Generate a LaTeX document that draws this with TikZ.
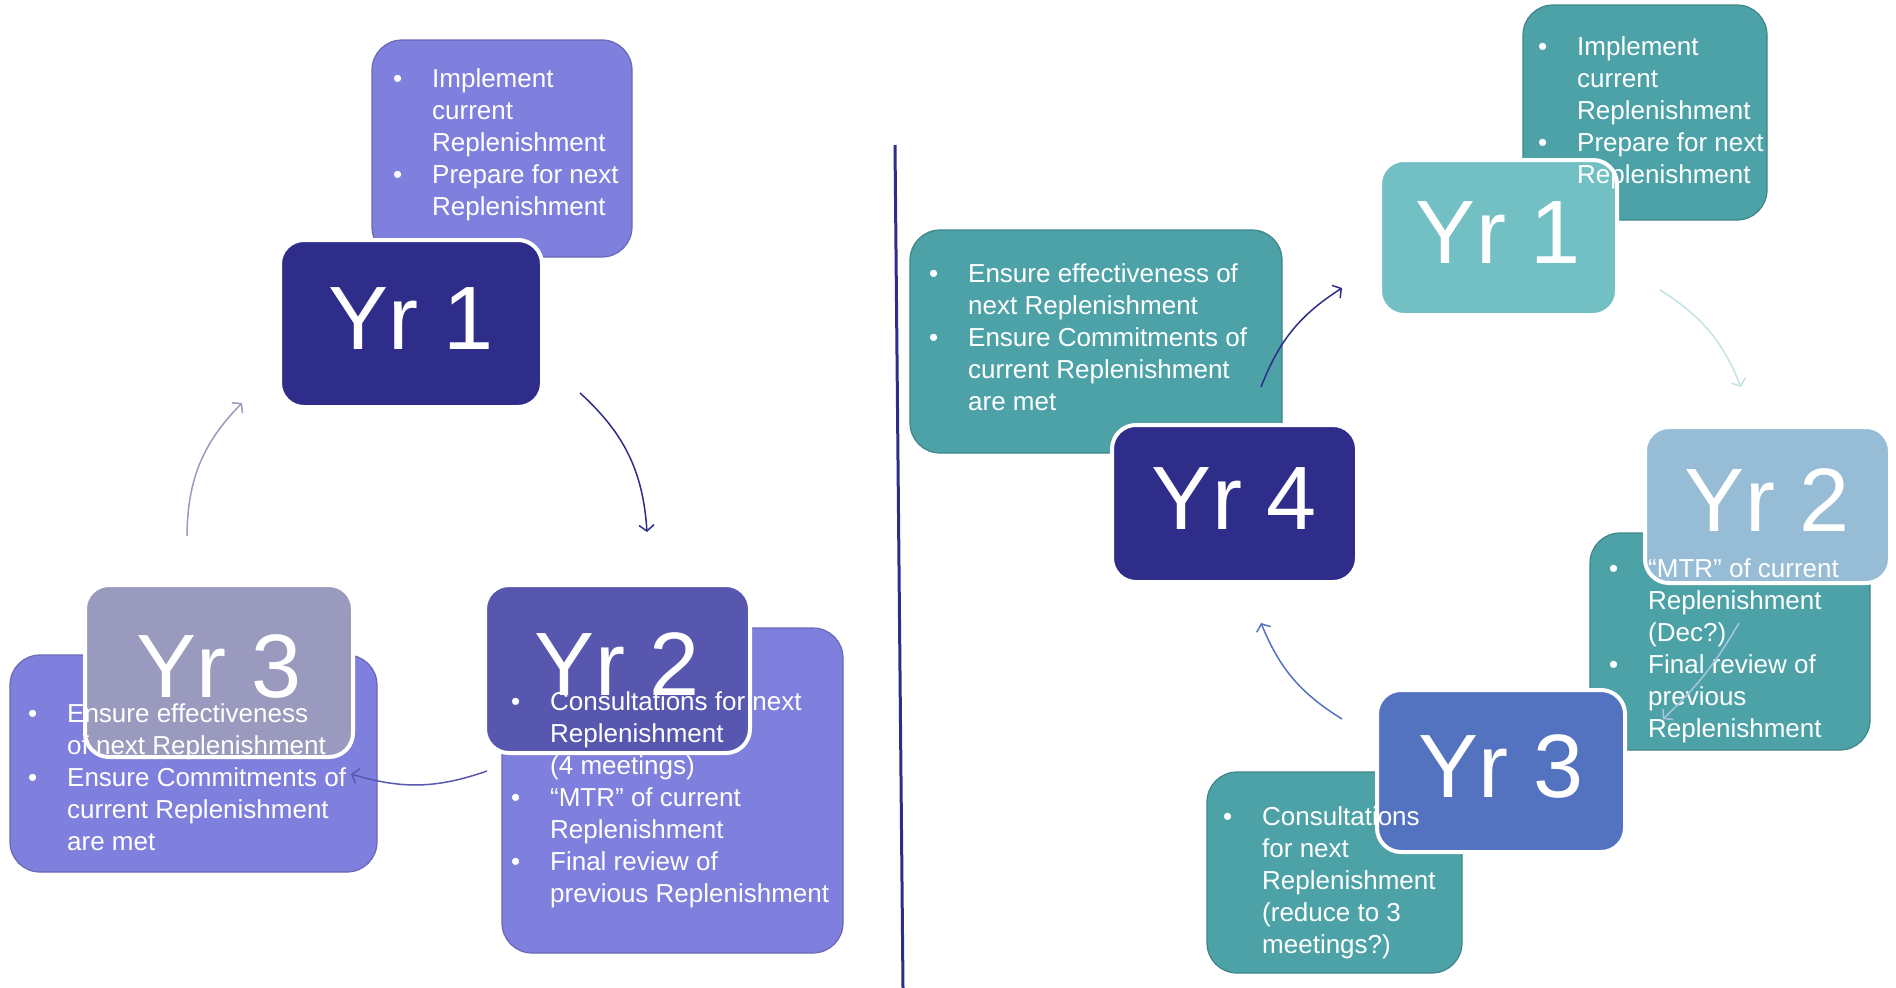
\documentclass[tikz,border=0pt]{standalone}
\usepackage{fontspec}
\setmainfont{Liberation Sans}
\usetikzlibrary{arrows.meta}

\definecolor{PanelPurple}{RGB}{127,127,221}
\definecolor{PanelTeal}{RGB}{77,162,168}
\definecolor{Navy}{RGB}{46,46,138}
\definecolor{LeftYrTwo}{RGB}{87,87,176}
\definecolor{LeftYrThree}{RGB}{154,154,190}
\definecolor{RightYrOne}{RGB}{114,191,196}
\definecolor{RightYrTwo}{RGB}{151,188,214}
\definecolor{RightYrThree}{RGB}{83,114,192}
\definecolor{ArrowTeal}{RGB}{196,226,228}
\definecolor{ArrowBlue}{RGB}{170,196,222}

\newcommand{\bpt}{\makebox[39pt][l]{\textbullet}}
\newcommand{\bind}{\hspace*{39pt}}

\begin{document}
\begin{tikzpicture}[
        x = 1pt, y = -1pt,
        panel/.style = {rectangle, rounded corners = 30pt, inner sep = 0pt,
          draw = #1!82!black, line width = 1.2pt, fill = #1},
        yearbox/.style = {rectangle, rounded corners = 24pt, inner sep = 0pt,
          draw = white, line width = 4pt, fill = #1, text = white,
          font = \fontsize{90}{90}\selectfont, text depth = 10pt},
        bullets/.style = {anchor = north west, inner sep = 0pt, align = left,
          text = white, font = \fontsize{26}{32}\selectfont},
        flow/.style = {draw = #1, line width = 1.5pt,
          -{Straight Barb[length = 6pt, width = 15pt]}}]

      \useasboundingbox (0,0) rectangle (1896,988);

      %left cycle, panels
      \node[panel = PanelPurple, minimum width = 260pt, minimum height = 217pt]
        (LeftYr1Panel) at (502,148.5) {};
      \node[panel = PanelPurple, minimum width = 341pt, minimum height = 325pt]
        (LeftYr2Panel) at (672.5,790.5) {};
      \node[panel = PanelPurple, minimum width = 367pt, minimum height = 217pt]
        (LeftYr3Panel) at (193.5,763.5) {};

      %left cycle, years
      \node[yearbox = Navy, minimum width = 262pt, minimum height = 167pt]
        (LeftYr1) at (411,323.5) {Yr 1};
      \node[yearbox = LeftYrTwo, minimum width = 265pt, minimum height = 168pt]
        (LeftYr2) at (617.5,669) {Yr 2};
      \node[yearbox = LeftYrThree, minimum width = 268pt, minimum height = 172pt]
        (LeftYr3) at (219,671) {Yr 3};

      %left cycle, texts
      \node[bullets] (LeftYr1Text) at (393,68)
        {\bpt Implement\\ \bind current\\ \bind Replenishment\\
         \bpt Prepare for next\\ \bind Replenishment};
      \node[bullets] (LeftYr2Text) at (511,691)
        {\bpt Consultations for next\\ \bind Replenishment\\ \bind (4 meetings)\\
         \bpt “MTR” of current\\ \bind Replenishment\\
         \bpt Final review of\\ \bind previous Replenishment};
      \node[bullets] (LeftYr3Text) at (28,703)
        {\bpt Ensure effectiveness\\ \bind of next Replenishment\\
         \bpt Ensure Commitments of\\ \bind current Replenishment\\ \bind are met};

      %divider
      \draw[Navy, line width = 3pt] (895,145) -- (903,988);

      %right cycle, panels
      \node[panel = PanelTeal, minimum width = 244pt, minimum height = 215pt]
        (RightYr1Panel) at (1645,112.5) {};
      \node[panel = PanelTeal, minimum width = 280pt, minimum height = 217pt]
        (RightYr2Panel) at (1730,641.5) {};
      \node[panel = PanelTeal, minimum width = 255pt, minimum height = 201pt]
        (RightYr3Panel) at (1334.5,872.5) {};
      \node[panel = PanelTeal, minimum width = 372pt, minimum height = 223pt]
        (RightYr4Panel) at (1096,341.5) {};

      %right cycle, years
      \node[yearbox = RightYrOne, minimum width = 237pt, minimum height = 155pt]
        (RightYr1) at (1498.5,237.5) {Yr 1};
      \node[yearbox = RightYrTwo, minimum width = 245pt, minimum height = 156pt]
        (RightYr2) at (1767.5,505) {Yr 2};
      \node[yearbox = RightYrThree, minimum width = 248pt, minimum height = 162pt]
        (RightYr3) at (1501,771) {Yr 3};
      \node[yearbox = Navy, minimum width = 245pt, minimum height = 157pt]
        (RightYr4) at (1234.5,503.5) {Yr 4};

      %right cycle, texts
      \node[bullets] (RightYr1Text) at (1538,36)
        {\bpt Implement\\ \bind current\\ \bind Replenishment\\
         \bpt Prepare for next\\ \bind Replenishment};
      \node[bullets] (RightYr2Text) at (1609,558)
        {\bpt “MTR” of current\\ \bind Replenishment\\ \bind (Dec?)\\
         \bpt Final review of\\ \bind previous\\ \bind Replenishment};
      \node[bullets] (RightYr3Text) at (1223,806)
        {\bpt Consultations\\ \bind for next\\ \bind Replenishment\\
         \bind (reduce to 3\\ \bind meetings?)};
      \node[bullets] (RightYr4Text) at (929,263)
        {\bpt Ensure effectiveness of\\ \bind next Replenishment\\
         \bpt Ensure Commitments of\\ \bind current Replenishment\\ \bind are met};

      %arrow ends
      \coordinate (LeftOut1) at (580,393);
      \coordinate (LeftIn2) at (647,532);
      \coordinate (LeftOut2) at (487,771);
      \coordinate (LeftIn3) at (351,774);
      \coordinate (LeftOut3) at (187,536);
      \coordinate (LeftIn1) at (242,403);
      \coordinate (RightOut4) at (1261,387);
      \coordinate (RightIn1) at (1342,288);
      \coordinate (RightOut1) at (1660,290);
      \coordinate (RightIn2) at (1741,387);
      \coordinate (RightOut2) at (1739,623);
      \coordinate (RightIn3) at (1663,719);
      \coordinate (RightOut3) at (1342,719);
      \coordinate (RightIn4) at (1261,623);

      %arrows
      \draw[flow = Navy] (LeftOut1) to[bend left = 22] (LeftIn2);
      \draw[flow = LeftYrTwo] (LeftOut2) to[bend left = 18] (LeftIn3);
      \draw[flow = LeftYrThree] (LeftOut3) to[bend left = 22] (LeftIn1);
      \draw[flow = Navy] (RightOut4) to[bend left = 18] (RightIn1);
      \draw[flow = ArrowTeal] (RightOut1) to[bend left = 18] (RightIn2);
      \draw[flow = ArrowBlue] (RightOut2) to[bend left = 8] (RightIn3);
      \draw[flow = RightYrThree] (RightOut3) to[bend left = 18] (RightIn4);
    \end{tikzpicture}
\end{document}
